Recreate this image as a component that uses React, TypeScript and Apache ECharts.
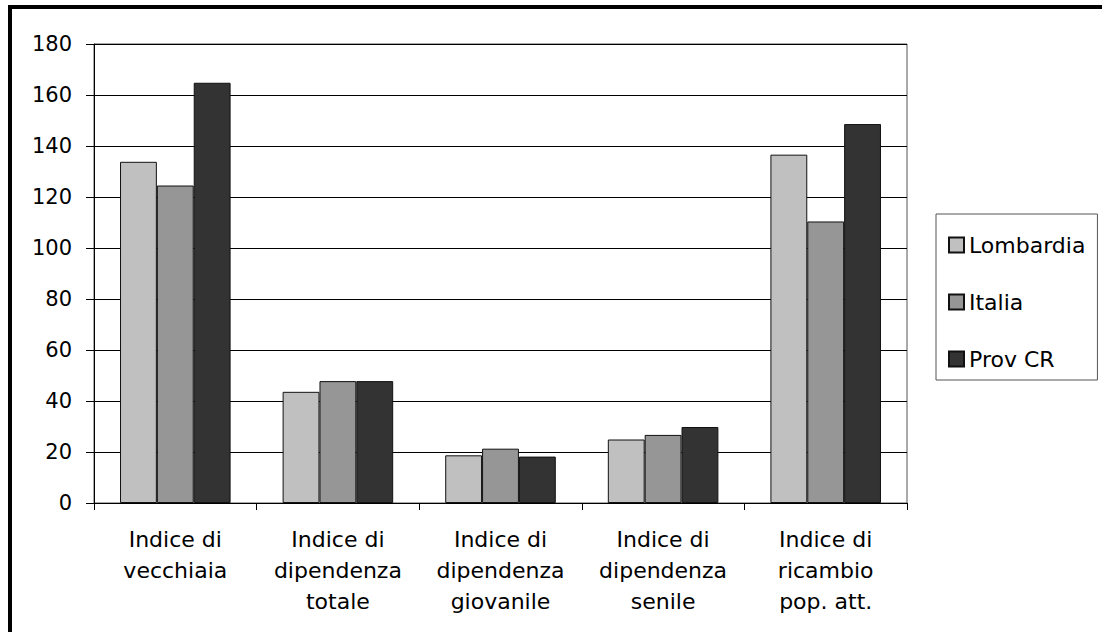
import React, { useEffect, useRef } from 'react';
import * as echarts from 'echarts';

const categorie = [
  'Indice di\nvecchiaia',
  'Indice di\ndipendenza\ntotale',
  'Indice di\ndipendenza\ngiovanile',
  'Indice di\ndipendenza\nsenile',
  'Indice di\nricambio\npop. att.',
];
const lombardia = [133.8, 43.6, 18.7, 24.9, 136.6];
const italia = [124.5, 47.8, 21.3, 26.7, 110.4];
const provCR = [164.8, 47.8, 18.2, 29.8, 148.6];
const nomiSerie = ['Lombardia', 'Italia', 'Prov CR'];
const colori = ['#C0C0C0', '#969696', '#333333'];

const FONT = '"DejaVu Sans", Verdana, sans-serif';

const App: React.FC = () => {
  const refGrafico = useRef<HTMLDivElement>(null);

  useEffect(() => {
    if (!refGrafico.current) return;
    const grafico = echarts.init(refGrafico.current, null, { renderer: 'svg' });

    const valori = [lombardia, italia, provCR];

    grafico.setOption({
      animation: false,
      backgroundColor: '#ffffff',
      textStyle: { fontFamily: FONT },
      grid: {
        left: 94,
        top: 44,
        width: 813,
        height: 459,
        show: true,
        borderColor: '#555555',
        borderWidth: 1,
        backgroundColor: 'transparent',
      },
      legend: {
        orient: 'vertical',
        left: 936,
        top: 214,
        padding: [20, 12, 10, 12],
        itemWidth: 15,
        itemHeight: 15,
        itemGap: 35,
        icon: 'rect',
        borderColor: '#555555',
        borderWidth: 1,
        textStyle: { fontFamily: FONT, fontSize: 22, lineHeight: 22, color: '#000' },
        data: nomiSerie,
      },
      xAxis: {
        type: 'category',
        data: categorie,
        axisLine: { show: true, lineStyle: { color: '#000', width: 1 } },
        axisTick: { show: true, length: 7, lineStyle: { color: '#000' } },
        axisLabel: {
          interval: 0,
          margin: 21,
          fontFamily: FONT,
          fontSize: 22,
          lineHeight: 31,
          color: '#000',
          align: 'center',
        },
        splitLine: { show: false },
      },
      yAxis: {
        type: 'value',
        min: 0,
        max: 180,
        interval: 20,
        axisLine: { show: true, lineStyle: { color: '#000', width: 1 } },
        axisTick: { show: true, length: 8, lineStyle: { color: '#000' } },
        axisLabel: { margin: 22, fontFamily: FONT, fontSize: 21, color: '#000' },
        splitLine: { show: true, lineStyle: { color: '#000', width: 1 } },
      },
      graphic: [
        {
          type: 'rect',
          shape: { x: 10, y: 7, width: 1200, height: 800 },
          style: { fill: 'none', stroke: '#000', lineWidth: 4 },
          silent: true,
        },
      ],
      series: nomiSerie.map((nome, i) => ({
        name: nome,
        type: 'bar',
        data: valori[i],
        barGap: '0%',
        barCategoryGap: '32%',
        itemStyle: { color: colori[i], borderColor: '#111', borderWidth: 1 },
      })),
    });

    return () => grafico.dispose();
  }, []);

  return (
    <div
      ref={refGrafico}
      style={{ position: 'fixed', left: 0, top: 0, width: '1102px', height: '632px' }}
    />
  );
};

export default App;
